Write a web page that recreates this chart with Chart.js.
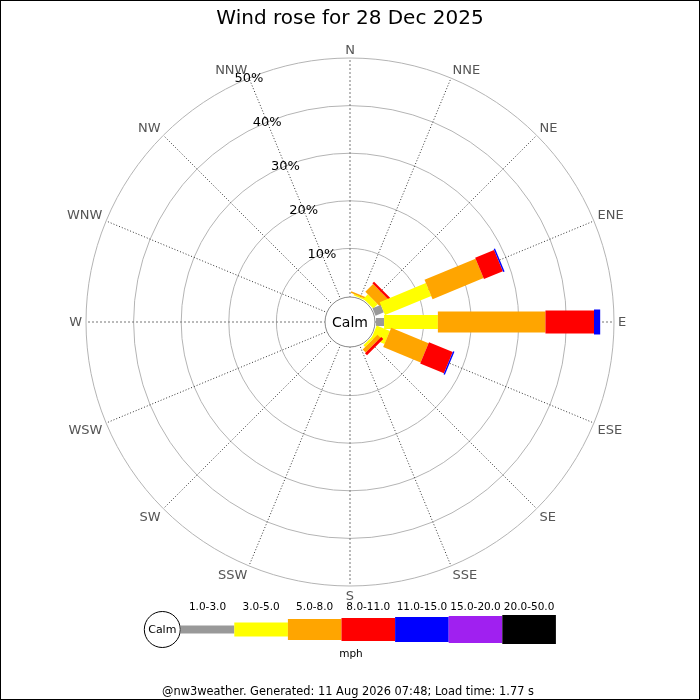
<!DOCTYPE html>
<html>
<head>
<meta charset="utf-8">
<title>Wind rose</title>
<script src="https://cdn.jsdelivr.net/npm/chart.js@4.4.1/dist/chart.umd.min.js"></script>
<style>
  html, body { margin: 0; padding: 0; background: #ffffff; }
  #wrap { width: 700px; height: 700px; }
</style>
</head>
<body>
<div id="wrap"><canvas id="roseChart" width="700" height="700"></canvas></div>
<script>
// Compass directions, clockwise from north
const directions = ['N', 'NNE', 'NE', 'ENE', 'E', 'ESE', 'SE', 'SSE', 'S', 'SSW', 'SW', 'WSW', 'W', 'WNW', 'NW', 'NNW'];

// Speed bins (mph) and their colours
const speedBins = ['1.0-3.0', '3.0-5.0', '5.0-8.0', '8.0-11.0', '11.0-15.0', '15.0-20.0', '20.0-50.0'];
const binColors = ['#999999', '#ffff00', '#ffa500', '#ff0000', '#0000ff', '#a020f0', '#000000'];

// Percentage of time per direction, one array per speed bin
const pct1to3   = [0, 0,   0,   1.9,  1.7,  0,   0,   0, 0, 0, 0, 0, 0, 0, 0, 0];
const pct3to5   = [0, 0.3, 1.3, 10.5, 11.3, 3.0, 0.5, 0, 0, 0, 0, 0, 0, 0, 0, 0];
const pct5to8   = [0, 0.3, 2.3, 11.6, 22.6, 8.5, 0.9, 0, 0, 0, 0, 0, 0, 0, 0, 0];
const pct8to11  = [0, 0,   0.5, 4.3,  10.2, 5.4, 0.6, 0, 0, 0, 0, 0, 0, 0, 0, 0];
const pct11to15 = [0, 0,   0,   0.3,  1.3,  0.3, 0,   0, 0, 0, 0, 0, 0, 0, 0, 0];
const pct15to20 = [0, 0,   0,   0,    0,    0,   0,   0, 0, 0, 0, 0, 0, 0, 0, 0];
const pct20to50 = [0, 0,   0,   0,    0,    0,   0,   0, 0, 0, 0, 0, 0, 0, 0, 0];

// Ring values (%)
const ringTicks = [10, 20, 30, 40, 50];

const titleText = 'Wind rose for 28 Dec 2025';
const unitText = 'mph';
const footerText = '@nw3weather. Generated: 11 Aug 2026 07:48; Load time: 1.77 s';

// bar thickness in px for each speed bin
const barWidths = [8, 14, 21, 23, 25, 27, 29];

const FONT = 'DejaVu Sans';
Chart.defaults.font.family = FONT;

const seriesValues = [pct1to3, pct3to5, pct5to8, pct8to11, pct11to15, pct15to20, pct20to50];

const roseDrawer = {
    id: 'roseDrawer',
    afterDatasetsDraw(chart) {
        const ctx = chart.ctx;
        const scale = chart.scales.r;

        // stacked bars, inner bin first
        chart.data.labels.forEach((lab, i) => {
            let cum = 0;
            chart.data.datasets.forEach((ds, k) => {
                const v = ds.data[i];
                if (!v) return;
                const d0 = scale.getDistanceFromCenterForValue(cum);
                cum += v;
                const d1 = scale.getDistanceFromCenterForValue(cum);
                const a = scale.getIndexAngle(i) - Math.PI / 2;
                const nx = -Math.sin(a) * barWidths[k] / 2;
                const ny = Math.cos(a) * barWidths[k] / 2;
                const p0 = scale.getPointPosition(i, d0);
                const p1 = scale.getPointPosition(i, d1);
                ctx.save();
                ctx.fillStyle = binColors[k];
                ctx.beginPath();
                ctx.moveTo(p0.x + nx, p0.y + ny);
                ctx.lineTo(p1.x + nx, p1.y + ny);
                ctx.lineTo(p1.x - nx, p1.y - ny);
                ctx.lineTo(p0.x - nx, p0.y - ny);
                ctx.closePath();
                ctx.fill();
                ctx.restore();
            });
        });

        // calm circle in the middle
        const calmR = scale.getDistanceFromCenterForValue(0) - 1;
        ctx.save();
        ctx.beginPath();
        ctx.arc(scale.xCenter, scale.yCenter, calmR, 0, Math.PI * 2);
        ctx.fillStyle = '#ffffff';
        ctx.fill();
        ctx.strokeStyle = '#888888';
        ctx.lineWidth = 1;
        ctx.stroke();
        ctx.fillStyle = '#000000';
        ctx.font = '14px "' + FONT + '"';
        ctx.textAlign = 'center';
        ctx.textBaseline = 'middle';
        ctx.fillText('Calm', scale.xCenter, scale.yCenter + 1);
        ctx.restore();

        // ring labels along the NNW spoke, kept horizontal
        const nnw = directions.indexOf('NNW');
        ctx.save();
        ctx.font = '13px "' + FONT + '"';
        ctx.fillStyle = '#000000';
        ctx.textAlign = 'center';
        ctx.textBaseline = 'middle';
        ringTicks.forEach(v => {
            const p = scale.getPointPosition(nnw, scale.getDistanceFromCenterForValue(v));
            ctx.fillText(v + '%', p.x, p.y + 1);
        });
        ctx.restore();

        // compass labels
        ctx.save();
        ctx.font = '13px "' + FONT + '"';
        ctx.fillStyle = '#555555';
        chart.data.labels.forEach((lab, i) => {
            const deg = Math.round(scale.getIndexAngle(i) * 180 / Math.PI) % 360;
            const p = scale.getPointPosition(i, scale.drawingArea + 4);
            let y = p.y;
            if (deg === 0 || deg === 180) ctx.textAlign = 'center';
            else if (deg < 180) ctx.textAlign = 'left';
            else ctx.textAlign = 'right';
            if (deg === 90 || deg === 270) {
                ctx.textBaseline = 'middle';
                y += 1;
            } else if (deg < 90 || deg > 270) {
                ctx.textBaseline = 'alphabetic';
            } else {
                ctx.textBaseline = 'alphabetic';
                y += 9.5;
            }
            ctx.fillText(lab, p.x, y);
        });
        ctx.restore();
    },
    afterDraw(chart) {
        const ctx = chart.ctx;
        ctx.save();

        // legend: calm circle then one bar per speed bin
        const legY = 629.5;
        const calmX = 162.3;
        ctx.beginPath();
        ctx.arc(calmX, legY, 18, 0, Math.PI * 2);
        ctx.fillStyle = '#ffffff';
        ctx.fill();
        ctx.strokeStyle = '#000000';
        ctx.lineWidth = 1;
        ctx.stroke();
        ctx.fillStyle = '#000000';
        ctx.font = '11px "' + FONT + '"';
        ctx.textAlign = 'center';
        ctx.textBaseline = 'middle';
        ctx.fillText('Calm', calmX, legY + 1);

        const segW = 53.6;
        const x0 = calmX + 18.4;
        speedBins.forEach((lab, k) => {
            const x = x0 + k * segW;
            const h = barWidths[k];
            ctx.fillStyle = binColors[k];
            ctx.fillRect(x, legY - h / 2, segW, h);
            ctx.fillStyle = '#000000';
            ctx.font = '10.5px "' + FONT + '"';
            ctx.textAlign = 'center';
            ctx.textBaseline = 'middle';
            ctx.fillText(lab, x + segW / 2, 607);
        });
        ctx.fillText(unitText, 351, 654);

        // footer line
        ctx.font = '11.4px "' + FONT + '"';
        ctx.fillText(footerText, 348, 692);

        // frame
        ctx.strokeStyle = '#000000';
        ctx.lineWidth = 1;
        ctx.strokeRect(0.5, 0.5, 699, 699);
        ctx.restore();
    }
};

const ctx = document.getElementById('roseChart').getContext('2d');
const roseChart = new Chart(ctx, {
    type: 'radar',
    data: {
        labels: directions,
        datasets: speedBins.map((bin, k) => ({
            label: bin,
            data: seriesValues[k],
            showLine: false,
            fill: false,
            borderWidth: 0,
            pointRadius: 0,
            pointHoverRadius: 0,
            pointHitRadius: 0,
            backgroundColor: binColors[k],
            borderColor: binColors[k]
        }))
    },
    options: {
        responsive: false,
        animation: false,
        layout: {
            padding: { left: 86, right: 86, top: 0, bottom: 114 }
        },
        scales: {
            r: {
                min: -5.46,
                max: 50,
                startAngle: 0,
                afterBuildTicks: (scale) => {
                    scale.ticks = ringTicks.map(v => ({ value: v }));
                },
                ticks: { display: false },
                pointLabels: { display: false },
                grid: {
                    circular: true,
                    color: '#b4b4b4',
                    lineWidth: 1
                },
                angleLines: {
                    color: (c) => (c.index % 4 === 0 ? '#777777' : '#333333'),
                    lineWidth: 1,
                    borderDash: (c) => (c.index % 4 === 0 ? [2, 2] : [1, 2])
                }
            }
        },
        plugins: {
            legend: { display: false },
            tooltip: { enabled: false },
            title: {
                display: true,
                text: titleText,
                color: '#000000',
                font: { size: 20, weight: 'normal', lineHeight: '22px' },
                padding: { top: 8, bottom: 28 }
            }
        }
    },
    plugins: [roseDrawer]
});
</script>
</body>
</html>
